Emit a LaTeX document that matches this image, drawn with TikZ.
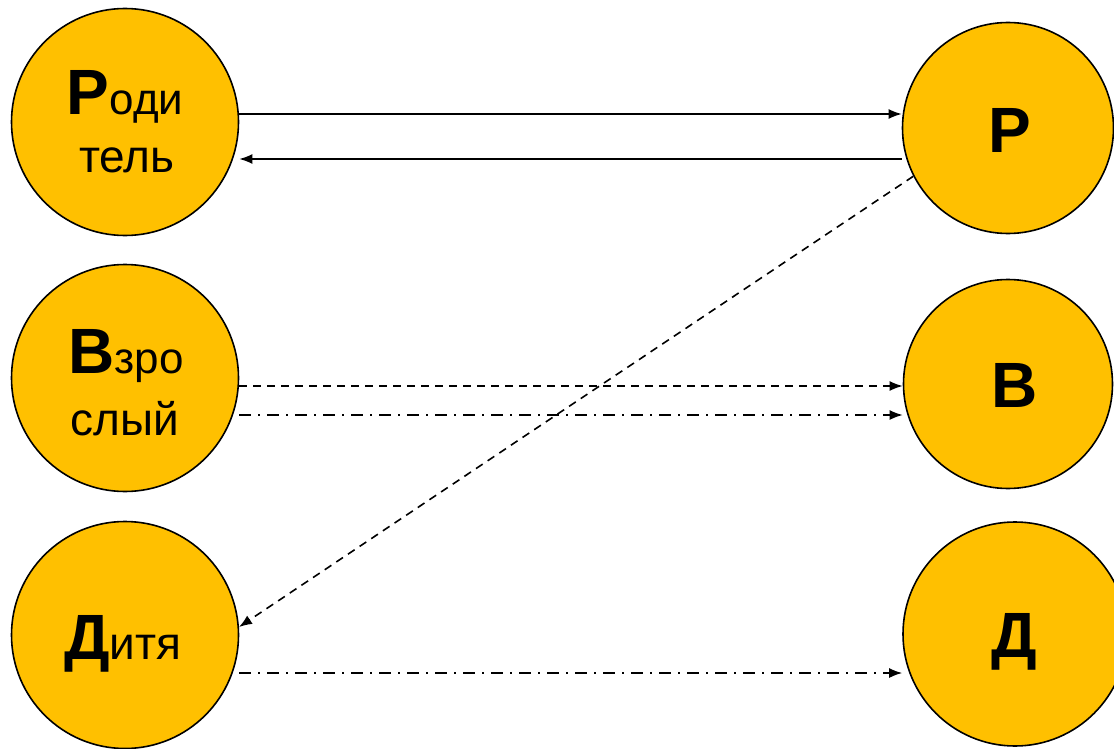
\documentclass[tikz,border=0pt]{standalone}
\usepackage{fontspec}
\setmainfont{Liberation Sans}
\usetikzlibrary{arrows.meta}
\definecolor{gold}{HTML}{FFC000}
\newcommand{\capL}[1]{{\fontsize{64}{64}\selectfont\bfseries #1}}
\newcommand{\smA}[1]{{\fontsize{44}{44}\selectfont #1}}
\newcommand{\smB}[1]{{\fontsize{46}{46}\selectfont #1}}
\begin{document}
\begin{tikzpicture}[x=1pt,y=-1pt,
  ball/.style={circle,draw=black,line width=1.6pt,fill=gold,inner sep=0pt},
  txt/.style={anchor=base,inner sep=0pt,text=black},
  conn/.style={line width=1.6pt,-{Latex[length=13pt,width=10pt]}},
  dsh/.style={conn,dash pattern=on 8pt off 6pt},
  dshdot/.style={conn,dash pattern=on 12pt off 7pt on 2pt off 7pt}]
\clip (0,0) rectangle (1114,749);
\fill[white] (0,0) rectangle (1114,749);
% left
\node[ball,minimum size=227pt] (A) at (125,122) {};
\node[ball,minimum size=227pt] (B) at (125,378) {};
\node[ball,minimum size=227pt] (C) at (125,635) {};
% right
\node[ball,minimum size=211pt] (R) at (1008,128) {};
\node[ball,minimum size=209pt] (V) at (1008,384) {};
\node[ball,minimum size=224pt] (D) at (1015,634) {};
% texts
\node[txt] (a1) at (125,115) {\capL{Р}\smA{оди}};
\node[txt] (a2) at (127,172) {\smB{тель}};
\node[txt] (b1) at (126,373) {\capL{В}\smA{зро}};
\node[txt] (b2) at (125,435) {\smB{слый}};
\node[txt] (c1) at (123,659) {\capL{Д}\smB{итя}};
\node[txt] (r1) at (1010,153) {\capL{Р}};
\node[txt] (v1) at (1015,407) {\capL{В}};
\node[txt] (d1) at (1014,657) {\capL{Д}};
% connectors
\draw[conn] (A.east |- 0,114) -- (R.west |- 0,114);
\draw[conn] (R.west |- 0,159) -- (A.east |- 0,159);
\draw[dsh] (R.207) -- (C.4);
\draw[dsh] (B.east |- 0,386) -- (V.west |- 0,386);
\draw[dshdot] (B.east |- 0,415) -- (V.west |- 0,415);
\draw[dshdot] (C.east |- 0,673) -- (D.west |- 0,673);
\end{tikzpicture}
\end{document}
